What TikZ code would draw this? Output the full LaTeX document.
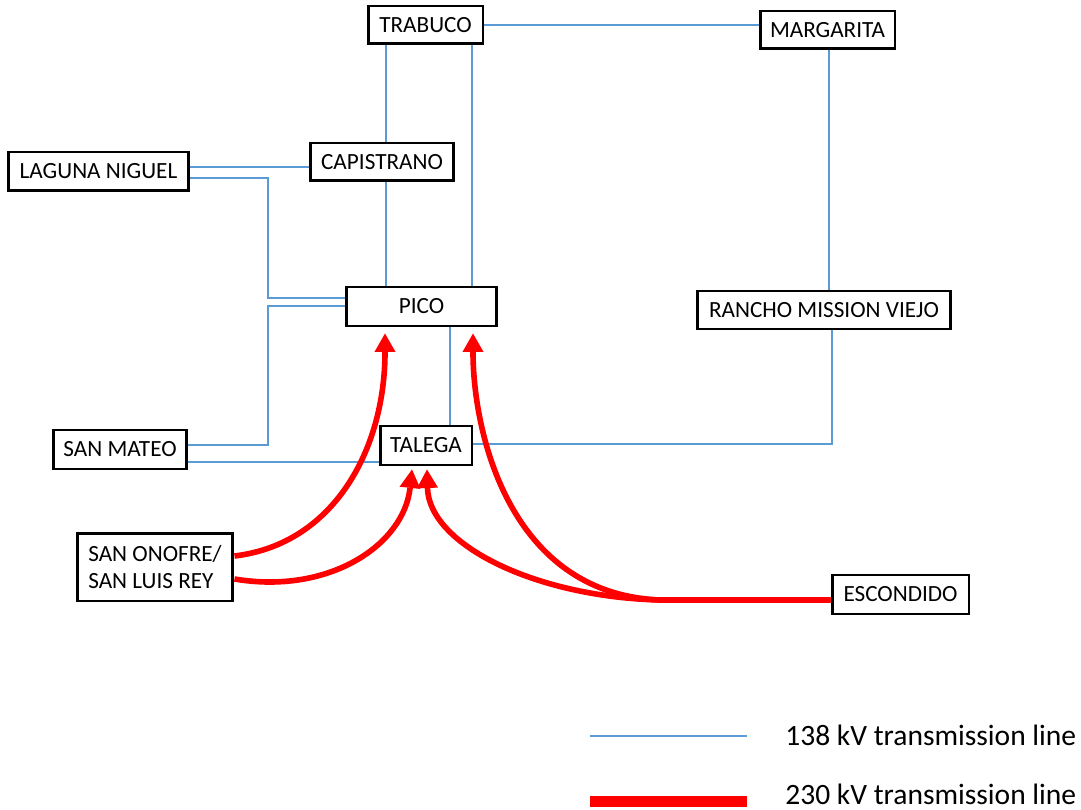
\documentclass[tikz,border=0pt]{standalone}
\usepackage{fontspec}
\setmainfont{Carlito}
\usetikzlibrary{arrows.meta,calc,backgrounds}
\definecolor{lblue}{RGB}{91,155,213}
\begin{document}
\begin{tikzpicture}[x=0.02cm,y=-0.02cm,
  box/.style={draw, line width=1.7pt, fill=white, inner sep=0pt, font=\fontsize{13.2}{15.9}\selectfont},
  kv138/.style={draw=lblue, line width=0.6pt},
  kv230/.style={draw=red, line width=3.2pt, line cap=butt, -{Triangle[length=10.5pt,width=12pt,line width=0pt]}},
  legtext/.style={anchor=west, inner sep=0pt, font=\fontsize{16.8}{19}\selectfont}]
\useasboundingbox (0,0) rectangle (1081,810);
% nodes
\node[box, minimum width=2.30cm, minimum height=0.76cm] (trabuco) at (425.5,25) {TRABUCO};
\node[box, minimum width=2.70cm, minimum height=0.76cm] (margarita) at (827.5,30) {MARGARITA};
\node[box, minimum width=3.62cm, minimum height=0.78cm] (laguna) at (98.5,171.5) {LAGUNA NIGUEL};
\node[box, minimum width=2.88cm, minimum height=0.76cm] (capistrano) at (382,162) {CAPISTRANO};
\node[box, minimum width=3.02cm, minimum height=0.78cm] (pico) at (421.5,306.5) {PICO};
\node[box, minimum width=5.08cm, minimum height=0.76cm] (rancho) at (824,310) {RANCHO MISSION VIEJO};
\node[box, minimum width=2.68cm, minimum height=0.78cm] (sanmateo) at (120,449.5) {SAN MATEO};
\node[box, minimum width=1.84cm, minimum height=0.78cm] (talega) at (426,445.5) {TALEGA};
\node[box, minimum width=3.12cm, minimum height=1.36cm, align=left] (sanonofre) at (155,567) {SAN ONOFRE/\\SAN LUIS REY};
\node[box, minimum width=2.74cm, minimum height=0.78cm] (escondido) at (900.5,594.5) {ESCONDIDO};
\coordinate (split) at (660,600);
% 138 kV lines
\begin{scope}[on background layer]
\draw[kv138] (trabuco.east) -- (trabuco.east -| margarita.west);
\draw[kv138] (386,0 |- trabuco.south) -- (386,0 |- capistrano.north);
\draw[kv138] (386,0 |- capistrano.south) -- (386,0 |- pico.north);
\draw[kv138] (472,0 |- trabuco.south) -- (472,0 |- pico.north);
\draw[kv138] (laguna.east |- 0,167) -- (capistrano.west |- 0,167);
\draw[kv138] (laguna.east |- 0,178) -| (268,298) -- (pico.west |- 0,298);
\draw[kv138] (pico.west |- 0,306) -| (268,445) -- (sanmateo.east |- 0,445);
\draw[kv138] (sanmateo.east |- 0,462) -- (talega.west |- 0,462);
\draw[kv138] (450,0 |- pico.south) -- (450,0 |- talega.north);
\draw[kv138] (talega.east |- 0,444) -| (832,0 |- rancho.south);
\draw[kv138] (829,0 |- margarita.south) -- (829,0 |- rancho.north);
\end{scope}
% 230 kV lines
\draw[kv230] ($(sanonofre.east)+(0,-11)$) .. controls +(100,-12) and +(0,115) .. ($(pico.south)+(-36.5,6)$);
\draw[kv230] ($(sanonofre.east)+(0,12)$) .. controls +(95,16) and +(-8,75) .. ($(talega.south)+(-14,3)$);
\draw[kv230] ($(escondido.west)+(0,5.5)$) -- (split) .. controls +(-125,-3) and +(2,75) .. ($(talega.south)+(1,3)$);
\draw[kv230] ($(escondido.west)+(0,5.5)$) -- (split) .. controls +(-150,-6) and +(0,100) .. ($(pico.south)+(51.5,6)$);
% legend
\coordinate (l1a) at (590,736);
\coordinate (l1b) at (747,736);
\coordinate (l2a) at (590,801.5);
\coordinate (l2b) at (747,801.5);
\draw[kv138] (l1a) -- (l1b);
\draw[draw=red, line width=6.8pt] (l2a) -- (l2b);
\node[legtext] (leg1) at (785,735) {138 kV transmission line};
\node[legtext] (leg2) at (785,794) {230 kV transmission line};
\end{tikzpicture}
\end{document}
